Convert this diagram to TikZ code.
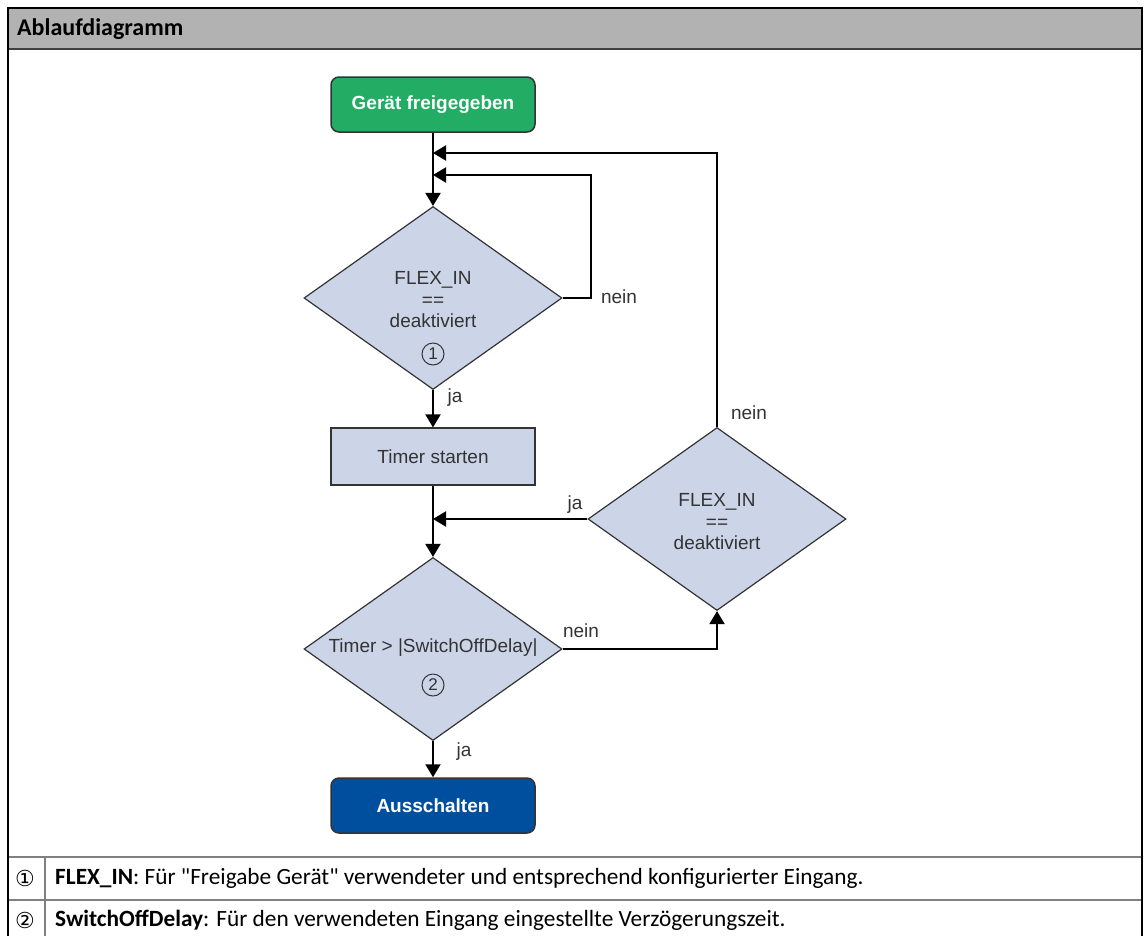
\documentclass[tikz,border=0pt]{standalone}
\usepackage{fontspec}
\setmainfont{Liberation Sans}
\newfontfamily\capfont{Carlito}[Ligatures=TeXOff]
\newfontfamily\symfont{DejaVu Sans}
\usetikzlibrary{shapes.geometric,arrows.meta}

\definecolor{hdrgray}{HTML}{B2B2B2}
\definecolor{rulegray}{HTML}{808080}
\definecolor{decfill}{HTML}{CCD5E8}
\definecolor{okgreen}{HTML}{23AC63}
\definecolor{offblue}{HTML}{004F9F}
\definecolor{ink}{HTML}{333333}

\tikzset{
  flow/.style={draw=black, line width=2pt, -{Triangle[length=13pt,width=15pt]}},
  terminal/.style={draw=ink, line width=1.5pt, rounded corners=8pt,
    minimum width=204pt, minimum height=55pt, inner sep=0pt,
    text=white, font=\fontsize{19}{22}\selectfont\bfseries},
  process/.style={draw=ink, line width=1.2pt, fill=decfill,
    minimum width=204pt, minimum height=57pt, inner sep=0pt,
    text=ink, font=\fontsize{19}{22}\selectfont},
  decision/.style={diamond, draw=ink, line width=1.2pt, fill=decfill,
    minimum width=258pt, minimum height=183pt, inner sep=0pt, aspect=1.41},
  dtext/.style={text=ink, align=center, inner sep=0pt,
    font=\fontsize{19}{21.5}\selectfont},
  numcirc/.style={circle, draw=ink, line width=1pt, minimum size=22pt,
    inner sep=0pt, text=ink, font=\fontsize{17}{17}\selectfont},
  lbl/.style={text=ink, inner sep=0pt, font=\fontsize{19}{22}\selectfont},
  capt/.style={inner sep=0pt, anchor=west, font=\capfont\fontsize{23.3}{27}\selectfont},
  keysym/.style={inner sep=0pt, font=\symfont\fontsize{22}{24}\selectfont},
}

\begin{document}
\begin{tikzpicture}[x=1pt, y=-1pt]
\useasboundingbox (0,0) rectangle (1145,935);

% frame, header band and legend rows
\fill[hdrgray] (8,8) rectangle (1142,49);
\draw[black!75, line width=1.5pt] (8,49) -- (1142,49);
\draw[rulegray, line width=2pt] (8,857) -- (1142,857);
\draw[rulegray, line width=2pt] (8,900) -- (1142,900);
\draw[rulegray, line width=2pt] (45,857) -- (45,945);
\draw[black, line width=2.5pt] (8,945) -- (8,8) -- (1142,8) -- (1142,945);

\node[capt, font=\capfont\fontsize{24}{28}\selectfont] (title) at (17,29) {\bfseries Ablaufdiagramm};

% flow nodes
\node[terminal, fill=okgreen] (start) at (433,104.5) {Gerät freigegeben};
\node[decision] (d1) at (433,298) {};
\node[dtext] (d1t) at (433,300) {FLEX\_IN\\==\\deaktiviert};
\node[numcirc] (n1) at (433,354) {1};
\node[process] (timer) at (433,456.5) {Timer starten};
\node[decision] (d2) at (433,649) {};
\node[dtext] (d2t) at (433,648) {Timer > |SwitchOffDelay|};
\node[numcirc] (n2) at (433,685) {2};
\node[decision] (d3) at (717,519) {};
\node[dtext] (d3t) at (717,522) {FLEX\_IN\\==\\deaktiviert};
\node[terminal, fill=offblue] (stop) at (433,805.5) {Ausschalten};

% merge points on the main line
\coordinate (j1) at (433,153);
\coordinate (j2) at (433,175);
\coordinate (j3) at (433,519);

% connectors
\draw[flow] (start.south) -- (d1.north);
\draw[flow] (d1.east) -- ++(28,0) |- (j2);
\draw[flow] (d1.south) -- (timer.north);
\draw[flow] (timer.south) -- (d2.north);
\draw[flow] (d2.south) -- (stop.north);
\draw[flow] (d2.east) -| (d3.south);
\draw[flow] (d3.west) -- (j3);
\draw[flow] (d3.north) |- (j1);

% branch labels
\node[lbl] (l1) at (619,297) {nein};
\node[lbl] (l2) at (455,398) {ja};
\node[lbl] (l3) at (749,413) {nein};
\node[lbl] (l4) at (575,505) {ja};
\node[lbl] (l5) at (581,631) {nein};
\node[lbl] (l6) at (464,752) {ja};

% legend
\node[keysym] (k1) at (25,878) {①};
\node[capt] (r1) at (55,878) {\textbf{FLEX\_IN}: Für "Freigabe Gerät" verwendeter und entsprechend konfigurierter Eingang.};
\node[keysym] (k2) at (25,920) {②};
\node[capt] (r2) at (55,920) {\textbf{SwitchOffDelay}: Für den verwendeten Eingang eingestellte Verzögerungszeit.};
\end{tikzpicture}
\end{document}
